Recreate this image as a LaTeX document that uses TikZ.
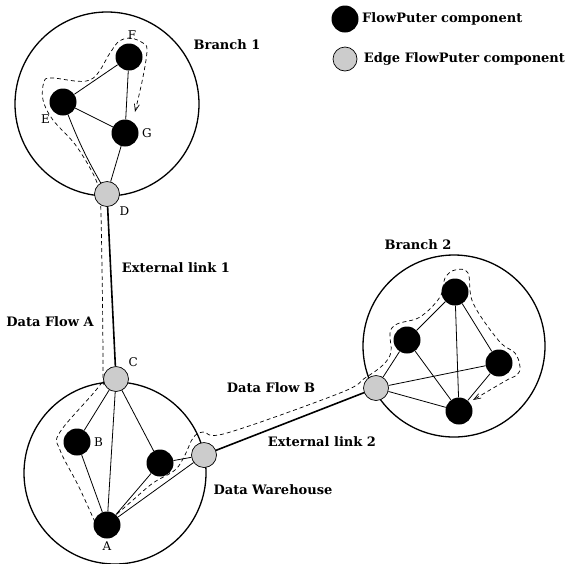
\documentclass[tikz,border=0pt]{standalone}
\usepackage{fontspec}
\setmainfont{DejaVu Serif}
\usetikzlibrary{arrows.meta, backgrounds, calc, positioning}

\tikzset{
	comp/.style = {circle, fill = black, minimum size = 27pt, inner sep = 0pt},
	edgecomp/.style = {circle, draw, fill = black!20, line width = 0.7pt, minimum size = 25pt, inner sep = 0pt},
	site/.style = {circle, draw, line width = 1.3pt, minimum size = #1, inner sep = 0pt},
	link/.style = {line width = 0.8pt},
	extlink/.style = {line width = 1.6pt},
	flow/.style = {dash pattern = on 4pt off 3pt, line width = 0.7pt, -{Straight Barb[length = 7pt, width = 5pt]}},
	tag/.style = {font = \bfseries\fontsize{13}{15}\selectfont},
	letter/.style = {font = \fontsize{12}{14}\selectfont}
}

\begin{document}
\begin{tikzpicture}[x = 1pt, y = -1pt]
		\useasboundingbox (0, 0) rectangle (572, 563);

		% legend
		\node [comp] (keyComp) at (345, 19) {};
		\node [tag, right = 0pt of keyComp] (keyCompText) {FlowPuter component};
		\node [edgecomp, minimum size = 24pt] (keyEdge) at (345, 59) {};
		\node [tag, right = 3pt of keyEdge] (keyEdgeText) {Edge FlowPuter component};

		% branch 1
		\node [comp, label = {[letter, xshift = 3pt]above:F}] (F) at (129, 57) {};
		\node [comp, label = {[letter]below left:E}] (E) at (63, 102) {};
		\node [comp, label = {[letter]right:G}] (G) at (125, 133) {};
		\node [edgecomp, label = {[letter]below right:D}] (D) at (107, 194) {};
		\node [tag] (branchOneText) at (227, 45) {Branch 1};

		% data warehouse
		\node [edgecomp, label = {[letter]above right:C}] (C) at (116, 379) {};
		\node [comp, label = {[letter]right:B}] (B) at (77, 442) {};
		\node [comp, label = {[letter]below:A}] (A) at (107, 525) {};
		\node [comp] (H) at (160, 463) {};
		\node [edgecomp] (W) at (204, 455) {};
		\node [tag] (warehouseText) at (273, 490) {Data Warehouse};

		% branch 2
		\node [comp] (T) at (455, 292) {};
		\node [comp] (L) at (407, 340) {};
		\node [comp] (R) at (499, 363) {};
		\node [comp] (Bt) at (459, 411) {};
		\node [edgecomp] (X) at (376, 388) {};
		\node [tag] (branchTwoText) at (418, 245) {Branch 2};

		\node [tag] (linkOneText) at (176, 268) {External link 1};
		\node [tag] (flowAText) at (50, 322) {Data Flow A};
		\node [tag] (flowBText) at (271, 388) {Data Flow B};
		\node [tag] (linkTwoText) at (322, 442) {External link 2};

		\begin{scope}[on background layer]
			\node [site = 184pt] (branchOne) at (107, 104) {};
			\node [site = 182pt] (warehouse) at (115, 473) {};
			\node [site = 182pt] (branchTwo) at (454, 346) {};

			% data flow A
			\draw [flow] plot [smooth, tension = 0.6] coordinates {
				($(A) + (-12, -3)$) ($(A) + (-29, -40)$) ($(B) + (-17, 8)$) ($(B) + (-17, -10)$)
				($(C) + (-16, 6)$) ($(C) + (-13, -9)$) ($(D) + (-6, 21)$) ($(D) + (-9, -9)$)
				($(E) + (14, 45)$) ($(E) + (-10, 18)$) ($(E) + (-20, -2)$) ($(E) + (-19, -20)$)
				($(E) + (-11, -24)$) ($(E) + (27, -22)$) ($(F) + (-19, -4)$) ($(F) + (-11, -15)$)
				($(F) + (1, -19)$) ($(F) + (14, -14)$) ($(F) + (18, -7)$) ($(F) + (14, 20)$)
				($(G) + (10, -21)$)};

			% data flow B
			\draw [flow] plot [smooth, tension = 0.6] coordinates {
				($(A) + (10, -11)$) ($(A) + (26, -25)$) ($(H) + (-7, 20)$) ($(H) + (15, 7)$)
				($(W) + (-19, 0)$) ($(W) + (-11, -17)$) ($(W) + (-1, -23)$) ($(W) + (23, -22)$)
				($(X) + (-36, 5)$) ($(X) + (-11, -10)$) ($(X) + (7, -23)$) ($(L) + (-16, 12)$)
				($(L) + (-17, -7)$) ($(L) + (-10, -16)$) ($(L) + (13, -23)$) ($(T) + (-15, 5)$)
				($(T) + (-10, -14)$) ($(T) + (0, -22)$) ($(T) + (13, -19)$) ($(T) + (18, 11)$)
				($(R) + (0, -22)$) ($(R) + (16, -10)$) ($(R) + (21, 4)$) ($(R) + (18, 12)$)
				($(R) + (8, 17)$) ($(Bt) + (14, -11)$)};
		\end{scope}

		\draw [link] (E) -- (F);
		\draw [link] (E) -- (G);
		\draw [link] (F) -- (G);
		\draw [link] (G) -- (D);
		\draw [link] (E) to [bend right = 4] (D);

		\draw [link] (C) -- (B);
		\draw [link] (C) -- (A);
		\draw [link] (C) -- (H);
		\draw [link] (B) -- (A);
		\draw [link] (A) -- (H);
		\draw [link] (A) -- (W);
		\draw [link] (H) -- (W);

		\draw [link] (X) -- (L);
		\draw [link] (X) -- (R);
		\draw [link] (X) -- (Bt);
		\draw [link] (L) -- (T);
		\draw [link] (L) -- (Bt);
		\draw [link] (T) -- (Bt);
		\draw [link] (T) -- (R);
		\draw [link] (R) -- (Bt);

		\draw [extlink] (D) -- (C);
		\draw [extlink] (W) -- (X);
	\end{tikzpicture}
\end{document}
